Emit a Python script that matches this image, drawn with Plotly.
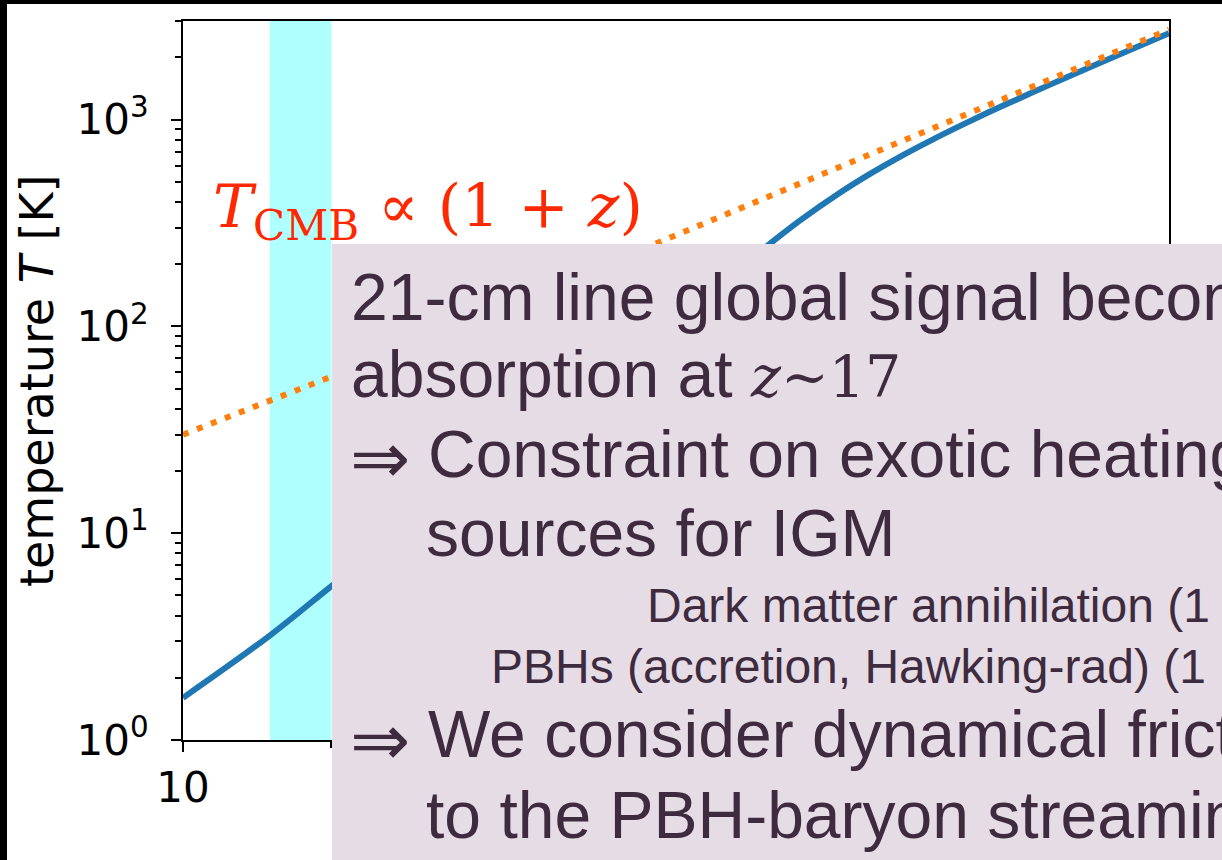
import plotly.graph_objects as go

# ---------------- data ----------------
z_gas = [10, 15, 20, 30, 50, 80, 110, 155, 178, 215, 247, 285, 327, 389, 454, 574, 725, 1000]
T_gas = [1.6, 3.2, 5.55, 11.9, 30.5, 71, 130, 251, 324, 443, 545, 663, 788, 967, 1150, 1477, 1884, 2615]
z_cmb = [10, 20, 50, 100, 200, 500, 1000]
T_cmb = [29.98, 57.2, 139, 275, 548, 1365, 2728]
band_z = [15, 20]
y_range = [1, 3000]
x_ticks = [10, 100, 1000]
x_tick_text = ["10", "", ""]
y_ticks = [1, 10, 100, 1000]
y_tick_text = ["10<sup>0</sup>", "10<sup>1</sup>", "10<sup>2</sup>", "10<sup>3</sup>"]
x_minor = [20, 30, 40, 50, 60, 70, 80, 90, 200, 300, 400, 500, 600, 700, 800, 900]
y_minor = [2, 3, 4, 5, 6, 7, 8, 9, 20, 30, 40, 50, 60, 70, 80, 90,
           200, 300, 400, 500, 600, 700, 800, 900, 2000, 3000]

y_title = "temperature <i>T</i> [K]"
cmb_label = "<i>T</i><sub>CMB</sub> ∝ (1 + <i>z</i>)"
SERIF = "<span style='font-family:DejaVu Serif;font-size:57px'>"
box_lines_big = [
    "21-cm line global signal becomes",
    "absorption at " + SERIF + "<i>z</i>~17</span>",
    "Constraint on exotic heating",
    "sources for IGM",
    "We consider dynamical friction",
    "to the PBH-baryon streaming",
]
box_lines_small = [
    "Dark matter annihilation (1",
    "PBHs (accretion, Hawking-rad) (1",
]

# ---------------- layout helpers ----------------
W, H = 1222, 860
L, R, T, B = 183, 1169, 21, 740


def px(x):
    return (x - L) / (R - L)


def py(y):
    return (B - y) / (B - T)


fig = go.Figure()

# cyan band
fig.add_trace(go.Scatter(
    x=[band_z[0], band_z[1], band_z[1], band_z[0], band_z[0]],
    y=[y_range[0], y_range[0], y_range[1], y_range[1], y_range[0]],
    fill="toself", fillcolor="#B0FFFF", mode="lines", line=dict(width=0),
    hoverinfo="skip", showlegend=False))

fig.add_trace(go.Scatter(x=z_gas, y=T_gas, mode="lines",
                         line=dict(color="#1f77b4", width=6, shape="spline", smoothing=1.0),
                         showlegend=False))
fig.add_trace(go.Scatter(x=z_cmb, y=T_cmb, mode="lines",
                         line=dict(color="#ff7f0e", width=6, dash="6px,9px"),
                         showlegend=False))

axis_font = dict(family="DejaVu Sans", size=42, color="black")
fig.update_xaxes(type="log", range=[1, 3], showline=True, linecolor="black", linewidth=2,
                 mirror=True, ticks="outside", ticklen=10, tickwidth=2, tickcolor="black",
                 tickvals=x_ticks, ticktext=x_tick_text, tickfont=axis_font,
                 showgrid=False, zeroline=False,
                 minor=dict(tickvals=x_minor, ticks="outside", ticklen=6, tickwidth=1.5,
                            tickcolor="black", showgrid=False))
fig.update_yaxes(type="log", range=[0, 3.4771], showline=True, linecolor="black", linewidth=2,
                 mirror=True, ticks="outside", ticklen=10, tickwidth=2, tickcolor="black",
                 tickvals=y_ticks, ticktext=y_tick_text, tickfont=axis_font,
                 ticklabelstandoff=14,
                 showgrid=False, zeroline=False,
                 minor=dict(tickvals=y_minor, ticks="outside", ticklen=6, tickwidth=1.5,
                            tickcolor="black", showgrid=False))

shapes = [
    # overlay text box
    dict(type="rect", xref="paper", yref="paper", x0=px(332), x1=px(1240),
         y0=py(880), y1=py(244), fillcolor="#E6DCE6", line=dict(width=0), layer="above"),
    # black frame edges of the screenshot
    dict(type="rect", xref="paper", yref="paper", x0=px(-5), x1=px(7),
         y0=py(880), y1=py(-5), fillcolor="black", line=dict(width=0), layer="above"),
    dict(type="rect", xref="paper", yref="paper", x0=px(-5), x1=px(1240),
         y0=py(4), y1=py(-5), fillcolor="black", line=dict(width=0), layer="above"),
]

TXT = "#3E2B3E"
big = dict(family="Liberation Sans", size=66, color=TXT)
small = dict(family="Liberation Sans", size=48, color=TXT)
arrow = dict(family="DejaVu Sans", size=72, color=TXT)

ann = []


def add(text, x, y, font, **kw):
    ann.append(dict(text=text, xref="paper", yref="paper", x=px(x), y=py(y),
                    xanchor="left", yanchor="middle", showarrow=False, font=font, **kw))


# y axis title
ann.append(dict(text=y_title, xref="paper", yref="paper", x=px(37), y=py(381),
                xanchor="center", yanchor="middle", textangle=-90, showarrow=False,
                font=dict(family="DejaVu Sans", size=46, color="black")))
# red CMB label
add(cmb_label, 211, 211, dict(family="DejaVu Serif", size=60, color="#FF2800"))

big_y = [297, 374, 454, 533, 734, 815]
big_x = [349, 349, 426, 424, 426, 424]
for t, xx, yy in zip(box_lines_big, big_x, big_y):
    add(t, xx, yy, big)
small_y = [605, 666]
small_x = [645, 489]
for t, xx, yy in zip(box_lines_small, small_x, small_y):
    add(t, xx, yy, small)
add("⇒", 348, 458, arrow)
add("⇒", 348, 740, arrow)

fig.update_layout(width=W, height=H, margin=dict(l=L, r=W - R, t=T, b=H - B),
                  paper_bgcolor="white", plot_bgcolor="white",
                  shapes=shapes, annotations=ann, showlegend=False)

fig.write_html("out.html")
